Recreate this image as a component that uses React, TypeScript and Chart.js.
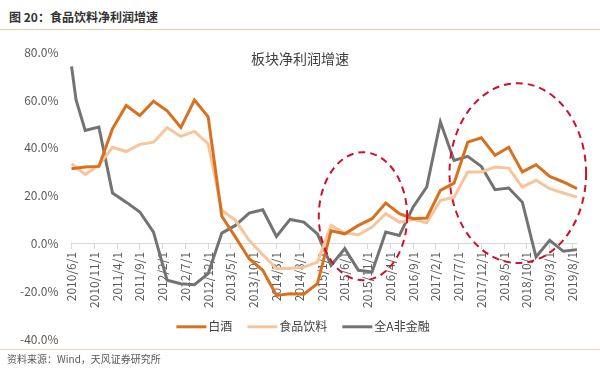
import React, { useEffect, useRef } from "react";
import { Chart, registerables } from "chart.js";

Chart.register(...registerables);

// Quarterly observation dates
const quarterDates = [
  "2010/6/1", "2010/9/1", "2010/12/1",
  "2011/3/1", "2011/6/1", "2011/9/1", "2011/12/1",
  "2012/3/1", "2012/6/1", "2012/9/1", "2012/12/1",
  "2013/3/1", "2013/6/1", "2013/9/1", "2013/12/1",
  "2014/3/1", "2014/6/1", "2014/9/1", "2014/12/1",
  "2015/3/1", "2015/6/1", "2015/9/1", "2015/12/1",
  "2016/3/1", "2016/6/1", "2016/9/1", "2016/12/1",
  "2017/3/1", "2017/6/1", "2017/9/1", "2017/12/1",
  "2018/3/1", "2018/6/1", "2018/9/1", "2018/12/1",
  "2019/3/1", "2019/6/1", "2019/9/1",
];

// 白酒
const baijiu = [
  31.3, 32.0, 32.3,
  48.0, 57.7, 53.5, 59.5,
  55.5, 48.5, 60.0, 53.0,
  11.5, 2.8, -6.2, -11.0,
  -21.5, -20.8, -21.0, -16.6,
  5.5, 4.2, 7.7, 10.5,
  17.0, 12.6, 10.5, 10.8,
  22.3, 25.3, 42.4, 44.2,
  36.9, 40.3, 30.0, 33.0,
  28.1, 25.8, 23.0,
];

// 食品饮料
const foodBev = [
  33.4, 29.0, 32.7,
  40.3, 38.5, 41.5, 42.4,
  48.4, 44.8, 46.9, 41.7,
  14.0, 9.8, 1.5, -4.5,
  -10.3, -10.3, -9.7, -7.6,
  7.7, 4.5, 3.8, 7.0,
  12.6, 9.1, 10.2, 8.8,
  18.1, 19.5, 30.0, 30.0,
  32.0, 31.6, 23.7, 26.5,
  23.0, 21.2, 19.5,
];

// 全A非金融 (has one extra early observation)
const allADates = ["2010/6/1", "2010/7/1", ...quarterDates.slice(1)];
const allA = [
  74.0, 60.0, 47.3, 48.7,
  21.2, 17.4, 13.3, 4.9,
  -15.2, -16.6, -17.0, -12.4,
  4.5, 7.7, 12.8, 14.2,
  3.1, 10.2, 9.1, 4.2,
  -9.0, -2.0, -11.0, -11.7,
  4.9, 3.5, 15.3, 23.7,
  50.8, 34.8, 36.5, 32.3,
  22.6, 23.3, 17.4, -5.5,
  1.5, -3.1, -2.4,
];

const seriesNames = ["白酒", "食品饮料", "全A非金融"];
const seriesColors = ["#D8711F", "#F7C59C", "#737373"];

const yMin = -40;
const yMax = 80;
const yStep = 20;
const xLabelEvery = 5; // months between axis labels

// axis spans monthly from first to last date
const axisStart = { y: 2010, m: 6 };
const axisEnd = { y: 2019, m: 9 };

// dashed highlight ellipses, in data units (center month label, center value, radius in months / percent)
const highlights = [
  { center: "2015/10/1", value: 11.5, rMonths: 9.7, rValue: 26.7 },
  { center: "2018/8/1", value: 29.5, rMonths: 15, rValue: 37.5 },
];

function buildMonthLabels(): string[] {
  const out: string[] = [];
  let y = axisStart.y;
  let m = axisStart.m;
  while (y < axisEnd.y || (y === axisEnd.y && m <= axisEnd.m)) {
    out.push(`${y}/${m}/1`);
    m += 1;
    if (m > 12) {
      m = 1;
      y += 1;
    }
  }
  return out;
}

const FONT = '"Noto Sans CJK SC", "Noto Sans", sans-serif';

const ellipsePlugin = {
  id: "highlightEllipses",
  afterDatasetsDraw(chart: any) {
    const { ctx, scales } = chart;
    const xs = scales.x;
    const ys = scales.y;
    const labels: string[] = chart.data.labels;
    ctx.save();
    ctx.strokeStyle = "#D0102A";
    ctx.lineWidth = 2;
    ctx.setLineDash([7, 5]);
    for (const h of highlights) {
      const ci = labels.indexOf(h.center);
      const cx = xs.getPixelForValue(ci);
      const cy = ys.getPixelForValue(h.value);
      const rx = Math.abs(xs.getPixelForValue(ci + h.rMonths) - cx);
      const ry = Math.abs(ys.getPixelForValue(h.value + h.rValue) - cy);
      ctx.beginPath();
      ctx.ellipse(cx, cy, rx, ry, 0, 0, Math.PI * 2);
      ctx.stroke();
    }
    ctx.restore();
  },
};

const legendPlugin = {
  id: "insideLegend",
  afterDraw(chart: any) {
    const { ctx, chartArea } = chart;
    const ds = chart.data.datasets;
    ctx.save();
    ctx.font = `12px ${FONT}`;
    const lineLen = 30;
    const gap = 2;
    const itemGap = 15;
    const widths = ds.map((d: any) => lineLen + gap + ctx.measureText(d.label).width);
    const total = widths.reduce((a: number, b: number) => a + b, 0) + itemGap * (ds.length - 1);
    let x = chart.width / 2 + 3 - total / 2;
    const y = chartArea.bottom - 13;
    ds.forEach((d: any, i: number) => {
      ctx.strokeStyle = d.borderColor;
      ctx.lineWidth = 3;
      ctx.setLineDash([]);
      ctx.beginPath();
      ctx.moveTo(x, y);
      ctx.lineTo(x + lineLen, y);
      ctx.stroke();
      ctx.fillStyle = "#404040";
      ctx.textBaseline = "middle";
      ctx.textAlign = "left";
      ctx.fillText(d.label, x + lineLen + gap, y);
      x += widths[i] + itemGap;
    });
    ctx.restore();
  },
};

export default function App() {
  const canvasRef = useRef<HTMLCanvasElement | null>(null);

  useEffect(() => {
    if (!canvasRef.current) return;
    const labels = buildMonthLabels();
    const toPoints = (dates: string[], vals: number[]) =>
      dates.map((d, i) => ({ x: d, y: vals[i] }));

    const chart = new Chart(canvasRef.current, {
      type: "line",
      data: {
        labels,
        datasets: [
          {
            label: seriesNames[0],
            data: toPoints(quarterDates, baijiu) as any,
            borderColor: seriesColors[0],
            backgroundColor: seriesColors[0],
            borderWidth: 3,
            pointRadius: 0,
            tension: 0,
          },
          {
            label: seriesNames[1],
            data: toPoints(quarterDates, foodBev) as any,
            borderColor: seriesColors[1],
            backgroundColor: seriesColors[1],
            borderWidth: 3,
            pointRadius: 0,
            tension: 0,
          },
          {
            label: seriesNames[2],
            data: toPoints(allADates, allA) as any,
            borderColor: seriesColors[2],
            backgroundColor: seriesColors[2],
            borderWidth: 3,
            pointRadius: 0,
            tension: 0,
          },
        ],
      },
      options: {
        responsive: false,
        animation: false,
        layout: { padding: { left: 17, right: 23, top: 20, bottom: 8 } },
        plugins: {
          legend: { display: false },
          title: { display: false },
          tooltip: { enabled: false },
        },
        scales: {
          x: {
            type: "category",
            position: { y: 0 } as any,
            offset: false,
            afterBuildTicks: (scale: any) => {
              scale.ticks = scale.ticks.filter((t: any) => t.value % xLabelEvery === 0);
            },
            ticks: {
              autoSkip: false,
              maxRotation: 90,
              minRotation: 90,
              padding: 3,
              color: "#595959",
              font: { family: FONT, size: 12 },
            },
            grid: {
              drawOnChartArea: false,
              drawTicks: true,
              tickLength: 5,
              color: "#D9D9D9",
            },
            border: { display: true, color: "#D9D9D9", width: 1 },
          },
          y: {
            min: yMin,
            max: yMax,
            ticks: {
              stepSize: yStep,
              padding: 3,
              color: "#595959",
              font: { family: FONT, size: 12 },
              callback: (v: any) => `${Number(v).toFixed(1)}%`,
            },
            grid: { display: false, drawTicks: true, tickLength: 10 },
            border: { display: false },
          },
        },
      },
      plugins: [ellipsePlugin, legendPlugin],
    });
    return () => chart.destroy();
  }, []);

  return (
    <div
      style={{
        position: "absolute",
        left: 0,
        top: 0,
        width: 600,
        height: 375,
        background: "#fff",
        fontFamily: FONT,
        overflow: "hidden",
      }}
    >
      <div
        style={{
          position: "absolute",
          left: 9,
          top: 9,
          fontSize: 12,
          fontWeight: "bold",
          color: "#333",
          lineHeight: "16px",
          whiteSpace: "nowrap",
        }}
      >
        图 20：食品饮料净利润增速
      </div>
      <div
        style={{
          position: "absolute",
          left: 0,
          top: 29,
          width: 600,
          height: 0,
          borderTop: "1.5px solid #F3CBA5",
        }}
      />
      <canvas
        ref={canvasRef}
        width={600}
        height={318}
        style={{ position: "absolute", left: 0, top: 32, width: 600, height: 318 }}
      />
      <div
        style={{
          position: "absolute",
          left: 0,
          width: 600,
          top: 49,
          textAlign: "center",
          fontSize: 14,
          color: "#404040",
          lineHeight: "18px",
          pointerEvents: "none",
        }}
      >
        板块净利润增速
      </div>
      <div
        style={{
          position: "absolute",
          left: 0,
          top: 349,
          width: 600,
          height: 0,
          borderTop: "1px solid #F3D5B8",
        }}
      />
      <div
        style={{
          position: "absolute",
          left: 7,
          top: 352,
          fontSize: 10,
          color: "#595959",
          lineHeight: "14px",
          whiteSpace: "nowrap",
        }}
      >
        资料来源：Wind，天风证券研究所
      </div>
    </div>
  );
}
